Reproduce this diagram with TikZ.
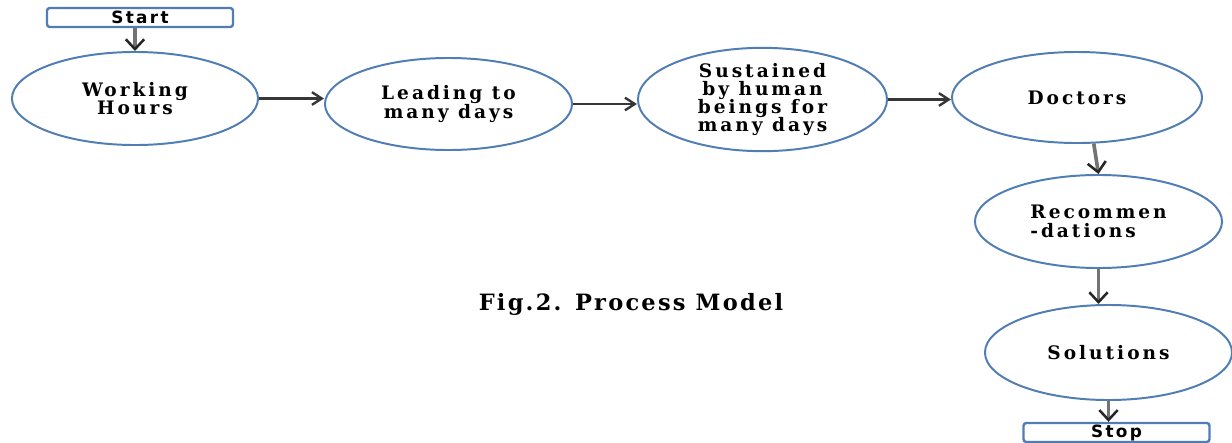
\documentclass[tikz,border=0pt]{standalone}
\usepackage{fontspec}
\usepackage{tikz}
\usetikzlibrary{arrows.meta,positioning,calc,shapes.geometric}
\setmainfont{Liberation Serif}
\newfontfamily\ellfont[LetterSpace=16]{DejaVu Serif}
\newfontfamily\capfont[LetterSpace=10]{DejaVu Serif}
\newfontfamily\termfont[LetterSpace=14]{DejaVu Sans}
\definecolor{edgeblue}{RGB}{79,125,180}
\definecolor{flowgray}{RGB}{55,55,55}
\tikzset{
  stage/.style={ellipse,draw=edgeblue,line width=1.4pt,fill=white,inner sep=0pt,
    align=center,font=\ellfont\bfseries\fontsize{13.2}{13}\selectfont},
  termbox/.style={rectangle,draw=edgeblue,line width=1.7pt,rounded corners=2pt,
    fill=white,minimum width=4.65cm,minimum height=0.475cm,inner sep=0pt,
    font=\termfont\bfseries\fontsize{12}{12}\selectfont},
  hflow/.style={draw=flowgray,line width=1.7pt,-{Straight Barb[length=7pt,width=9pt]}},
  vflow/.style={draw=black!55,line width=2.6pt,
    -{Straight Barb[length=7pt,width=13pt,line width=1.8pt,color=black!85]}}
}
\begin{document}
\begin{tikzpicture}[x=0.025cm,y=-0.025cm]
  \useasboundingbox (0,0) rectangle (1232,442);
  \node[termbox] (start) at (140,17.5) {Start};
  \node[stage,minimum width=6.15cm,minimum height=2.325cm] (work) at (135,98.5) {Working\\Hours};
  \node[stage,minimum width=6.175cm,minimum height=2.3cm] (lead) at (448.5,104) {Leading to\\many days};
  \node[stage,minimum width=6.225cm,minimum height=2.375cm] (sustain) at (762.5,99.5) {Sustained\\by human\\beings for\\many days};
  \node[stage,minimum width=6.25cm,minimum height=2.275cm] (doctor) at (1077,97.5) {Doctors};
  \node[stage,minimum width=6.175cm,minimum height=2.325cm,align=left] (recommend) at (1098.5,221.5) {Recommen\\-dations};
  \node[stage,minimum width=6.175cm,minimum height=2.375cm] (solution) at (1108.5,352.5) {Solutions};
  \node[termbox] (stop) at (1116.5,432.5) {Stop};
  \node[font=\capfont\bfseries\fontsize{16}{18}\selectfont] (caption) at (631,304) {Fig.2. Process Model};
  \draw[vflow] (work.north |- start.south) -- (work.north);
  \draw[hflow] (work.east) -- (work.east -| lead.west);
  \draw[hflow] (lead.east) -- (lead.east -| sustain.west);
  \draw[hflow] (sustain.east) -- (sustain.east -| doctor.west);
  \draw[vflow] (doctor.-70) -- (recommend.north);
  \draw[vflow] (recommend.south) -- (recommend.south |- solution.north);
  \draw[vflow] (solution.south) -- (solution.south |- stop.north);
\end{tikzpicture}
\end{document}
